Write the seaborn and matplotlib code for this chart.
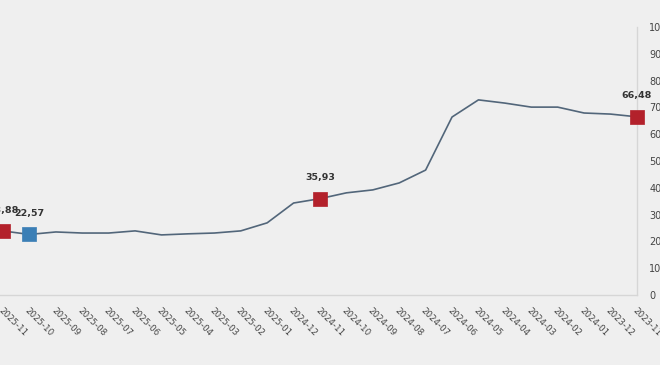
import matplotlib
matplotlib.use("Agg")
import matplotlib.pyplot as plt
import seaborn as sns
import pandas as pd

months = ["2023-11", "2023-12", "2024-01", "2024-02", "2024-03", "2024-04", "2024-05",
          "2024-06", "2024-07", "2024-08", "2024-09", "2024-10", "2024-11", "2024-12",
          "2025-01", "2025-02", "2025-03", "2025-04", "2025-05", "2025-06", "2025-07",
          "2025-08", "2025-09", "2025-10", "2025-11"]
values = [66.48, 67.5, 67.9, 70.1, 70.1, 71.6, 72.8,
          66.4, 46.6, 41.8, 39.2, 38.1, 35.93, 34.3,
          26.9, 23.9, 23.1, 22.8, 22.4, 23.9, 23.1,
          23.1, 23.5, 22.57, 23.88]
red_months = ["2023-11", "2024-11", "2025-11"]
blue_months = ["2025-10"]
y_ticks = [0, 10, 20, 30, 40, 50, 60, 70, 80, 90, 100]

BG = "#efefef"
LINE = "#52667a"
RED = "#b3212b"
BLUE = "#3b7fb6"

df = pd.DataFrame({"month": months, "value": values})
df["pos"] = range(len(df))

sns.set_theme(style="white")
plt.rcParams["font.family"] = ["DejaVu Sans"]

fig = plt.figure(figsize=(6.6, 3.65), dpi=100, facecolor=BG)
ax = fig.add_axes([0.0, 0.192, 0.965, 0.734])
ax.set_facecolor(BG)

sns.lineplot(data=df, x="pos", y="value", ax=ax, color=LINE, linewidth=1.2)

for sel, col in ((red_months, RED), (blue_months, BLUE)):
    sub = df[df["month"].isin(sel)]
    sns.scatterplot(data=sub, x="pos", y="value", ax=ax, marker="s", s=95,
                    color=col, edgecolor=col, linewidth=0.5, zorder=5, clip_on=False)
    for _, r in sub.iterrows():
        ax.annotate(f"{r['value']:.2f}".replace(".", ","), (r["pos"], r["value"]),
                    xytext=(0, 15), textcoords="offset points", ha="center", va="center",
                    fontsize=6.8, fontweight="bold", color="#333333", annotation_clip=False)

n = len(months)
ax.set_xlim(n - 1 + 0.115, 0)
ax.set_ylim(0, 100)
ax.set_xticks(df["pos"])
ax.set_xticklabels(months, rotation=-45, ha="left", va="top", rotation_mode="anchor",
                   fontsize=6.2, color="#444444")
ax.set_yticks(y_ticks)
ax.set_yticklabels([str(t) for t in y_ticks], fontsize=7, color="#444444")
ax.yaxis.tick_right()
ax.tick_params(axis="y", length=0, pad=9)
ax.tick_params(axis="x", length=0, pad=8)
ax.set_xlabel("")
ax.set_ylabel("")
for side in ("top", "left"):
    ax.spines[side].set_visible(False)
for side in ("right", "bottom"):
    ax.spines[side].set_color("#d6d6d6")
    ax.spines[side].set_linewidth(1.0)
ax.grid(False)

fig.savefig("out.png", dpi=100, facecolor=BG)
